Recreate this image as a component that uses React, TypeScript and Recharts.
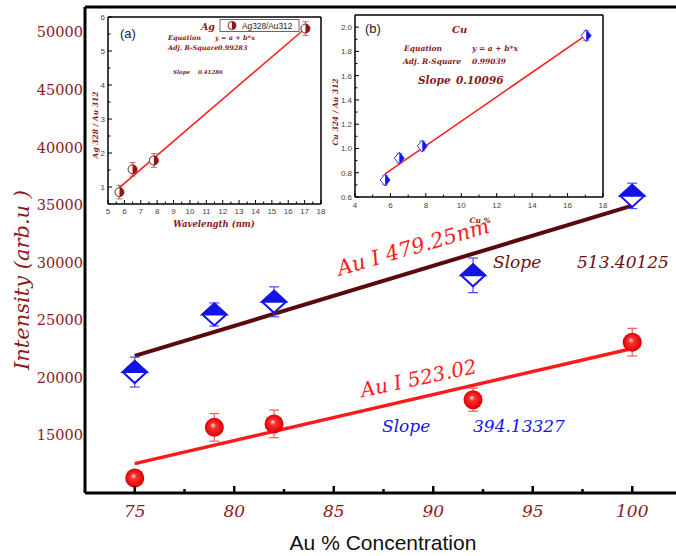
import React from 'react';
import {
  ComposedChart,
  XAxis,
  YAxis,
  Scatter,
  Line,
  ErrorBar,
  ReferenceLine,
} from 'recharts';

// main plot: intensity vs Au concentration
const auConc = [75, 79, 82, 92, 100];
const int479 = [20500, 25500, 26600, 28900, 35800];
const err479 = [1300, 1000, 1300, 1500, 1100];
const int523 = [11300, 15700, 16000, 18100, 23100];
const err523 = [500, 1200, 1200, 1000, 1200];
const fitX = [75, 100];
const fit479 = [21900, 34950];
const fit523 = [12550, 22550];
const mainXTicks = [75, 77.5, 80, 82.5, 85, 87.5, 90, 92.5, 95, 97.5, 100];
const mainYTicks = [15000, 20000, 25000, 30000, 35000, 40000, 45000, 50000];

// inset (a) Ag
const agX = [5.7, 6.5, 7.8, 17.05];
const agRatio = [0.85, 1.52, 1.78, 5.66];
const agErr = [0.2, 0.2, 0.2, 0.2];
const agFitX = [5.7, 17.05];
const agFit = [0.98, 5.67];
const agXTicks = [5, 5.5, 6, 6.5, 7, 7.5, 8, 8.5, 9, 9.5, 10, 10.5, 11, 11.5, 12, 12.5, 13, 13.5, 14, 14.5, 15, 15.5, 16, 16.5, 17, 17.5, 18];
const agYTicks = [0.5, 1, 1.5, 2, 2.5, 3, 3.5, 4, 4.5, 5, 5.5, 6];

// inset (b) Cu
const cuX = [5.7, 6.5, 7.8, 17.05];
const cuRatio = [0.74, 0.92, 1.02, 1.93];
const cuErr = [0.04, 0.04, 0.04, 0.04];
const cuFitX = [5.7, 17.05];
const cuFit = [0.79, 1.935];
const cuXTicks = [4, 5, 6, 7, 8, 9, 10, 11, 12, 13, 14, 15, 16, 17, 18];
const cuYTicks = [0.6, 0.7, 0.8, 0.9, 1.0, 1.1, 1.2, 1.3, 1.4, 1.5, 1.6, 1.7, 1.8, 1.9, 2.0];

const zip = (xs: number[], ys: number[], es?: number[]) =>
  xs.map((x, i) => ({ x, y: ys[i], err: es ? es[i] : 0 }));

const DARK_RED = '#8b1a1a';
const BROWN = '#5a0a0a';
const RED = '#ff1a1a';
const BLUE = '#1414e6';
const SERIF = '"DejaVu Serif", serif';
const SANS = '"Liberation Sans", Arial, sans-serif';

function Sphere(props: any) {
  const { cx, cy } = props;
  return (
    <g>
      <defs>
        <radialGradient id="sph" cx="0.5" cy="0.5" r="0.5" fx="0.42" fy="0.38">
          <stop offset="0" stopColor="#ffe6e6" />
          <stop offset="0.3" stopColor="#ff3030" />
          <stop offset="1" stopColor="#d80000" />
        </radialGradient>
      </defs>
      <circle cx={cx} cy={cy} r={9.5} fill="url(#sph)" />
    </g>
  );
}

function BigDiamond(props: any) {
  const { cx, cy } = props;
  const w = 12;
  const h = 11;
  return (
    <g>
      <polygon
        points={`${cx},${cy - h} ${cx + w},${cy} ${cx},${cy + h} ${cx - w},${cy}`}
        fill="#fff"
        stroke={BLUE}
        strokeWidth={2}
      />
      <polygon points={`${cx},${cy - h} ${cx + w},${cy} ${cx - w},${cy}`} fill={BLUE} stroke={BLUE} strokeWidth={2} />
    </g>
  );
}

function HalfCircle(props: any) {
  const { cx, cy } = props;
  const r = 4.5;
  return (
    <g>
      <circle cx={cx} cy={cy} r={r} fill="#fff" stroke={DARK_RED} strokeWidth={1} />
      <path d={`M${cx},${cy - r} A${r},${r} 0 0 1 ${cx},${cy + r} Z`} fill={DARK_RED} />
    </g>
  );
}

function HalfDiamond(props: any) {
  const { cx, cy } = props;
  const w = 5;
  const h = 6;
  return (
    <g>
      <polygon
        points={`${cx},${cy - h} ${cx + w},${cy} ${cx},${cy + h} ${cx - w},${cy}`}
        fill="#fff"
        stroke="#3a3aff"
        strokeWidth={1}
      />
      <polygon points={`${cx},${cy - h} ${cx + w},${cy} ${cx},${cy + h}`} fill={BLUE} />
    </g>
  );
}

function MainXTick(props: any) {
  const { x, y, payload } = props;
  const v = payload.value;
  const major = v % 5 === 0;
  return (
    <g>
      <line x1={x} x2={x} y1={y} y2={y - (major ? 7 : 4)} stroke="#000" strokeWidth={2.5} />
      {major && (
        <text x={x} y={y + 24} textAnchor="middle" fill={DARK_RED} fontFamily={SERIF} fontStyle="italic" fontSize={17}>
          {v}
        </text>
      )}
    </g>
  );
}

function MainYTick(props: any) {
  const { x, y, payload } = props;
  return (
    <text x={x - 2} y={y + 5} textAnchor="end" fill={DARK_RED} fontFamily={SERIF} fontSize={14.5}>
      {payload.value}
    </text>
  );
}

// inset ticks: inward marks, labels only on majors
const insetXTick = (isMajor: (v: number) => boolean, dy: number) => (props: any) => {
  const { x, y, payload } = props;
  const v = payload.value;
  const major = isMajor(v);
  return (
    <g>
      <line x1={x} x2={x} y1={y} y2={y - (major ? 4 : 2.5)} stroke="#000" strokeWidth={1} />
      {major && (
        <text x={x} y={y + dy} textAnchor="middle" fill="#444" fontFamily={SANS} fontSize={8}>
          {v}
        </text>
      )}
    </g>
  );
};

const insetYTick = (isMajor: (v: number) => boolean, fmt: (v: number) => string, dx: number) => (props: any) => {
  const { x, y, payload } = props;
  const v = payload.value;
  const major = isMajor(v);
  return (
    <g>
      <line x1={x} x2={x + (major ? 4 : 2.5)} y1={y} y2={y} stroke="#000" strokeWidth={1} />
      {major && (
        <text x={x - dx} y={y + 3} textAnchor="end" fill="#444" fontFamily={SANS} fontSize={8}>
          {fmt(v)}
        </text>
      )}
    </g>
  );
};

function MainChart() {
  return (
    <ComposedChart width={700} height={556} margin={{ top: 7, right: 18, bottom: 0, left: 0 }}>
      <XAxis
        type="number"
        dataKey="x"
        domain={[72.5, 102.5]}
        ticks={mainXTicks}
        interval={0}
        allowDataOverflow
        height={63}
        tickSize={0}
        tickMargin={0}
        tickLine={false}
        axisLine={{ stroke: '#000', strokeWidth: 3 }}
        tick={<MainXTick />}
      />
      <YAxis
        type="number"
        dataKey="y"
        domain={[10000, 52200]}
        ticks={mainYTicks}
        interval={0}
        allowDataOverflow
        width={85}
        tickSize={0}
        tickMargin={0}
        tickLine={false}
        axisLine={{ stroke: '#000', strokeWidth: 3 }}
        tick={<MainYTick />}
      />
      <ReferenceLine y={52200} stroke="#000" strokeWidth={3} />
      <Line
        data={zip(fitX, fit479)}
        dataKey="y"
        type="linear"
        stroke={BROWN}
        strokeWidth={4}
        dot={false}
        activeDot={false}
        isAnimationActive={false}
      />
      <Line
        data={zip(fitX, fit523)}
        dataKey="y"
        type="linear"
        stroke={RED}
        strokeWidth={3.5}
        dot={false}
        activeDot={false}
        isAnimationActive={false}
      />
      <Scatter data={zip(auConc, int479, err479)} dataKey="y" shape={<BigDiamond />} isAnimationActive={false}>
        <ErrorBar dataKey="err" direction="y" width={5} stroke="#4a4aff" strokeWidth={1.2} />
      </Scatter>
      <Scatter data={zip(auConc, int523, err523)} dataKey="y" shape={<Sphere />} isAnimationActive={false}>
        <ErrorBar dataKey="err" direction="y" width={5} stroke="#ff5a5a" strokeWidth={1.2} />
      </Scatter>
    </ComposedChart>
  );
}

function InsetA() {
  return (
    <ComposedChart width={250} height={240} margin={{ top: 17, right: 9, bottom: 0, left: 0 }}>
      <XAxis
        type="number"
        dataKey="x"
        domain={[5, 18]}
        ticks={agXTicks}
        interval={0}
        allowDataOverflow
        height={36}
        tickSize={0}
        tickMargin={0}
        tickLine={false}
        axisLine={{ stroke: '#000', strokeWidth: 1.5 }}
        tick={insetXTick((v) => Number.isInteger(v), 10)}
      />
      <YAxis
        type="number"
        dataKey="y"
        domain={[0.5, 6]}
        ticks={agYTicks}
        interval={0}
        allowDataOverflow
        width={28}
        tickSize={0}
        tickMargin={0}
        tickLine={false}
        axisLine={{ stroke: '#000', strokeWidth: 1.5 }}
        tick={insetYTick((v) => Number.isInteger(v), (v) => String(v), 3)}
      />
      <ReferenceLine y={6} stroke="#000" strokeWidth={1.5} />
      <ReferenceLine x={18} stroke="#000" strokeWidth={1.5} />
      <Line
        data={zip(agFitX, agFit)}
        dataKey="y"
        type="linear"
        stroke={RED}
        strokeWidth={1.5}
        dot={false}
        activeDot={false}
        isAnimationActive={false}
      />
      <Scatter data={zip(agX, agRatio, agErr)} dataKey="y" shape={<HalfCircle />} isAnimationActive={false}>
        <ErrorBar dataKey="err" direction="y" width={3} stroke="#b04040" strokeWidth={0.8} />
      </Scatter>
    </ComposedChart>
  );
}

function InsetB() {
  return (
    <ComposedChart width={290} height={230} margin={{ top: 15, right: 17, bottom: 0, left: 0 }}>
      <XAxis
        type="number"
        dataKey="x"
        domain={[4, 18]}
        ticks={cuXTicks}
        interval={0}
        allowDataOverflow
        height={33}
        tickSize={0}
        tickMargin={0}
        tickLine={false}
        axisLine={{ stroke: '#000', strokeWidth: 1.5 }}
        tick={insetXTick((v) => v % 2 === 0, 11)}
      />
      <YAxis
        type="number"
        dataKey="y"
        domain={[0.6, 2.1]}
        ticks={cuYTicks}
        interval={0}
        allowDataOverflow
        width={25}
        tickSize={0}
        tickMargin={0}
        tickLine={false}
        axisLine={{ stroke: '#000', strokeWidth: 1.5 }}
        tick={insetYTick((v) => Math.round(v * 10) % 2 === 0, (v) => v.toFixed(1), 3)}
      />
      <ReferenceLine y={2.1} stroke="#000" strokeWidth={1.5} />
      <ReferenceLine x={18} stroke="#000" strokeWidth={1.5} />
      <Line
        data={zip(cuFitX, cuFit)}
        dataKey="y"
        type="linear"
        stroke={RED}
        strokeWidth={1.5}
        dot={false}
        activeDot={false}
        isAnimationActive={false}
      />
      <Scatter data={zip(cuX, cuRatio, cuErr)} dataKey="y" shape={<HalfDiamond />} isAnimationActive={false}>
        <ErrorBar dataKey="err" direction="y" width={3} stroke="#5a5aff" strokeWidth={0.8} />
      </Scatter>
    </ComposedChart>
  );
}

function Annotations() {
  const it = { fontFamily: SERIF, fontStyle: 'italic' as const };
  const small = { fontFamily: SERIF, fontStyle: 'italic' as const, fontWeight: 700, fill: DARK_RED };
  return (
    <svg width={676} height={556} style={{ position: 'absolute', left: 0, top: 0, pointerEvents: 'none' }}>
      {/* main titles */}
      <text x={29} y={280} transform="rotate(-90 29 280)" textAnchor="middle" fill={DARK_RED} fontSize={21} {...it}>
        Intensity (arb.u )
      </text>
      <text x={383} y={550} textAnchor="middle" fill="#111" fontFamily={SANS} fontSize={21}>
        Au % Concentration
      </text>
      <text x={415} y={254} transform="rotate(-16 415 254)" textAnchor="middle" fill={RED} fontSize={21} {...it}>
        Au I 479.25nm
      </text>
      <text x={493} y={268} fill="#6e0e0e" fontSize={17} {...it}>Slope</text>
      <text x={577} y={268} fill="#6e0e0e" fontSize={17} {...it}>513.40125</text>
      <text x={420} y={385} transform="rotate(-12 420 385)" textAnchor="middle" fill={RED} fontSize={20} {...it}>
        Au I 523.02
      </text>
      <text x={382} y={432} fill={BLUE} fontSize={17} {...it}>Slope</text>
      <text x={473} y={432} fill={BLUE} fontSize={17} {...it}>394.13327</text>

      {/* inset (a) */}
      <text x={120} y={38} fill="#222" fontFamily={SANS} fontSize={13}>(a)</text>
      <text x={201} y={30} fontSize={9.5} {...small}>Ag</text>
      <rect x={220} y={19.5} width={79} height={12} fill="#fff" stroke="#444" strokeWidth={0.8} />
      <circle cx={232} cy={25.5} r={4} fill="#fff" stroke={DARK_RED} strokeWidth={1} />
      <path d="M232,21.5 A4,4 0 0 1 232,29.5 Z" fill={DARK_RED} />
      <text x={242} y={29} fill="#222" fontFamily={SANS} fontSize={8.3}>Ag328/Au312</text>
      <text x={168} y={40} fontSize={6.5} {...small}>Equation</text>
      <text x={215} y={40} fontSize={6.5} {...small}>y = a + b*x</text>
      <text x={168} y={50} fontSize={6.5} {...small}>Adj. R-Square</text>
      <text x={218} y={50} fontSize={6.5} {...small}>0.99283</text>
      <text x={173} y={74} fontSize={5.5} {...small}>Slope</text>
      <text x={198} y={74} fontSize={5.5} {...small}>0.41286</text>
      <text x={214} y={227} textAnchor="middle" fontSize={8.5} {...small}>Wavelength (nm)</text>
      <text x={98} y={125} transform="rotate(-90 98 125)" textAnchor="middle" fontSize={7.5} {...small}>
        Ag 328 / Au 312
      </text>

      {/* inset (b) */}
      <text x={365} y={33} fill="#222" fontFamily={SANS} fontSize={13}>(b)</text>
      <text x={452} y={33} fontSize={10} {...small}>Cu</text>
      <text x={404} y={51} fontSize={7.5} {...small}>Equation</text>
      <text x={472} y={51} fontSize={7.5} {...small}>y = a + b*x</text>
      <text x={403} y={64} fontSize={7.5} {...small}>Adj. R-Square</text>
      <text x={472} y={64} fontSize={7.5} {...small}>0.99039</text>
      <text x={418} y={84} fontSize={10.5} {...small}>Slope</text>
      <text x={456} y={84} fontSize={10.5} {...small}>0.10096</text>
      <text x={480} y={223} textAnchor="middle" fontSize={7.5} {...small}>Cu %</text>
      <text x={338} y={112} transform="rotate(-90 338 112)" textAnchor="middle" fontSize={7.5} {...small}>
        Cu 324 / Au 312
      </text>
    </svg>
  );
}

export default function App() {
  return (
    <div
      style={{
        position: 'absolute',
        left: 0,
        top: 0,
        width: 676,
        height: 556,
        overflow: 'hidden',
        background: '#fff',
      }}
    >
      <div style={{ position: 'absolute', left: 0, top: 0 }}>
        <MainChart />
      </div>
      <div style={{ position: 'absolute', left: 80, top: 0 }}>
        <InsetA />
      </div>
      <div style={{ position: 'absolute', left: 330, top: 0 }}>
        <InsetB />
      </div>
      <Annotations />
    </div>
  );
}
